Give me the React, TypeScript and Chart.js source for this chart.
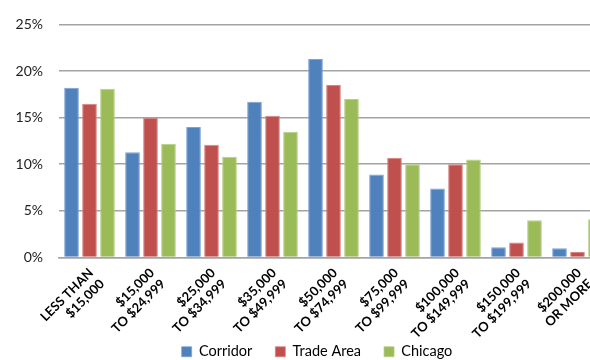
import React, { useEffect, useRef } from "react";
import { Chart, registerables } from "chart.js";

Chart.register(...registerables);

// Household income distribution (share of households)
const incomeBrackets: string[][] = [
  ["LESS THAN", "$15,000"],
  ["$15,000", "TO $24,999"],
  ["$25,000", "TO $34,999"],
  ["$35,000", "TO $49,999"],
  ["$50,000", "TO $74,999"],
  ["$75,000", "TO $99,999"],
  ["$100,000", "TO $149,999"],
  ["$150,000", "TO $199,999"],
  ["$200,000", "OR MORE"],
];

const seriesNames = ["Corridor", "Trade Area", "Chicago"];
const corridor = [18.2, 11.3, 14.0, 16.7, 21.3, 8.9, 7.4, 1.1, 1.0];
const tradeArea = [16.5, 15.0, 12.1, 15.2, 18.5, 10.7, 10.0, 1.6, 0.6];
const chicago = [18.1, 12.2, 10.8, 13.5, 17.0, 10.0, 10.5, 4.0, 4.1];

const yMin = 0;
const yMax = 25;
const yStep = 5;

const fills = ["#4F81BD", "#C0504D", "#9BBB59"];
const edges = ["#7fa3d0", "#d58583", "#b7cf86"];

const FONT = "Lato, 'Open Sans', sans-serif";
const CANVAS_W = 634;
const CANVAS_H = 385;
const X_AXIS_HEIGHT = 80;
const LEGEND_LIFT = 16;

// Pulls the legend row up so it sits closer to the category labels.
const legendLift = {
  id: "legendLift",
  afterLayout(chart: any) {
    const lg = chart.legend;
    if (lg) {
      lg.top -= LEGEND_LIFT;
      lg.bottom -= LEGEND_LIFT;
    }
  },
};

// Category labels at 45°, each line right-aligned at its tick.
const slantedLabels = {
  id: "slantedLabels",
  afterDraw(chart: any) {
    const xs = chart.scales.x;
    const ctx = chart.ctx as CanvasRenderingContext2D;
    const size = 13;
    const lineGap = 15.5;
    ctx.save();
    ctx.font = `bold ${size}px ${FONT}`;
    ctx.fillStyle = "#000";
    ctx.textAlign = "right";
    ctx.textBaseline = "alphabetic";
    xs.ticks.forEach((_t: any, i: number) => {
      const lines = chart.data.labels[i] as string[];
      const x = xs.getPixelForTick(i);
      ctx.save();
      ctx.translate(x - 2, xs.top + 9.5);
      ctx.rotate(-Math.PI / 4);
      lines.forEach((line, j) => {
        ctx.fillText(line, 0, size * 0.72 + j * lineGap);
      });
      ctx.restore();
    });
    ctx.restore();
  },
};

export default function App() {
  const canvasRef = useRef<HTMLCanvasElement | null>(null);

  useEffect(() => {
    if (!canvasRef.current) return;
    Chart.defaults.font.family = FONT;
    const values = [corridor, tradeArea, chicago];
    const chart = new Chart(canvasRef.current, {
      type: "bar",
      data: {
        labels: incomeBrackets,
        datasets: seriesNames.map((name, i) => ({
          label: name,
          data: values[i],
          backgroundColor: fills[i],
          borderColor: edges[i],
          borderWidth: { top: 1, left: 1, right: 1, bottom: 0 },
          categoryPercentage: 0.885,
          barPercentage: 0.815,
        })),
      },
      plugins: [legendLift, slantedLabels],
      options: {
        responsive: false,
        animation: false,
        devicePixelRatio: 1,
        layout: { padding: { top: 9, left: 0, right: 0, bottom: 0 } },
        plugins: {
          legend: {
            position: "bottom",
            labels: {
              boxWidth: 10,
              boxHeight: 10,
              padding: 23,
              color: "#000",
              font: { size: 14.5 },
            },
          },
          tooltip: { enabled: false },
        },
        scales: {
          x: {
            grid: { display: false },
            border: { display: true, color: "#a3a3a3", width: 1.6 },
            ticks: { display: false },
            afterFit: (s: any) => {
              s.height = X_AXIS_HEIGHT;
            },
          },
          y: {
            min: yMin,
            max: yMax,
            grid: { color: "#a3a3a3", lineWidth: 1.6, drawTicks: false },
            border: { display: false },
            ticks: {
              stepSize: yStep,
              padding: 16,
              color: "#222",
              font: { size: 14 },
              callback: (v: any) => `${v}%`,
            },
            afterFit: (s: any) => {
              s.width = 59;
            },
          },
          yRight: {
            position: "right",
            grid: { display: false },
            border: { display: false },
            ticks: { display: false },
            afterFit: (s: any) => {
              s.width = 26;
            },
          },
        },
      },
    });
    return () => chart.destroy();
  }, []);

  return (
    <div
      style={{
        position: "fixed",
        left: 0,
        top: 0,
        width: 590,
        height: 360,
        overflow: "hidden",
        background: "#fff",
      }}
    >
      <canvas
        ref={canvasRef}
        width={CANVAS_W}
        height={CANVAS_H}
        style={{ width: CANVAS_W, height: CANVAS_H, display: "block" }}
      />
    </div>
  );
}
